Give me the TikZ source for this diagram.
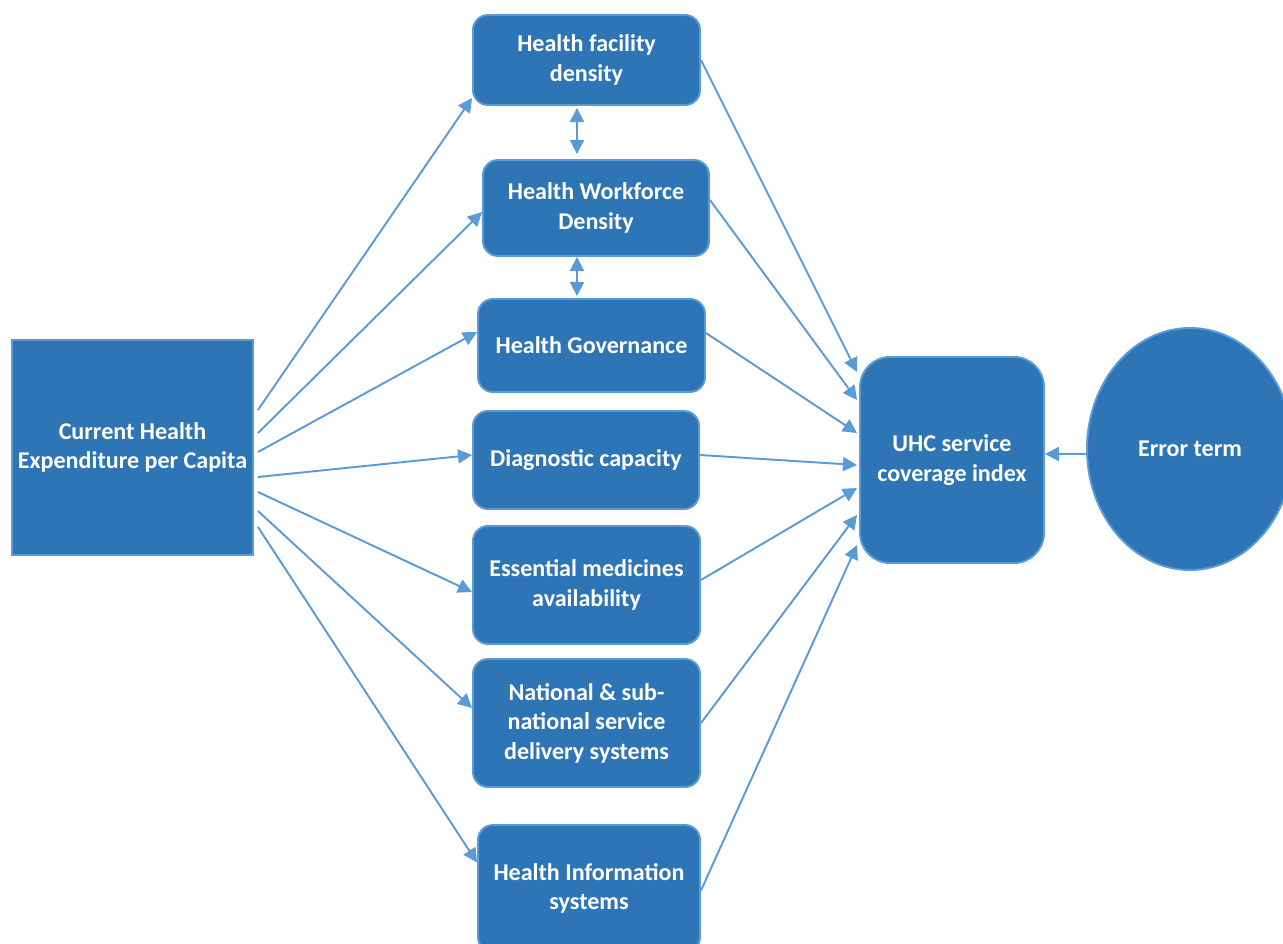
\documentclass[tikz,border=0pt]{standalone}
\usepackage{fontspec}
\setmainfont{Carlito}
\usetikzlibrary{arrows.meta,shapes.geometric}
\definecolor{boxfill}{HTML}{2E75B6}
\definecolor{boxline}{HTML}{5B9BD5}
\begin{document}
\begin{tikzpicture}[
  every node/.style={font=\fontsize{13.7}{16.8}\selectfont\bfseries, text=white, align=center, inner sep=0pt},
  factor/.style={draw=boxline, fill=boxfill, line width=1.1pt, rounded corners=0.3cm},
  link/.style={draw=boxline, line width=1.1pt, -{Triangle[length=8pt,width=8pt]}},
  twoway/.style={draw=boxline, line width=1.1pt, {Triangle[length=8pt,width=8pt]}-{Triangle[length=8pt,width=8pt]}}]
  \useasboundingbox (0,0) rectangle (25.66,-18.88);
  \begin{scope}
  \clip (0,0) rectangle (25.66,-18.88);

  \node[draw=boxline, fill=boxfill, line width=1.1pt, minimum width=4.82cm, minimum height=4.3cm] (cur) at (2.65,-8.95) {Current Health\\Expenditure per Capita};

  \node[factor, minimum width=4.54cm, minimum height=1.8cm] (fac) at (11.73,-1.2) {Health facility\\density};
  \node[factor, minimum width=4.52cm, minimum height=1.92cm] (wf) at (11.92,-4.16) {Health Workforce\\Density};
  \node[factor, minimum width=4.54cm, minimum height=1.86cm] (gov) at (11.83,-6.91) {Health Governance};
  \node[factor, minimum width=4.52cm, minimum height=1.96cm] (diag) at (11.72,-9.2) {Diagnostic capacity};
  \node[factor, minimum width=4.54cm, minimum height=2.36cm] (ess) at (11.73,-11.7) {Essential medicines\\availability};
  \node[factor, minimum width=4.54cm, minimum height=2.56cm] (nat) at (11.73,-14.46) {National \& sub-\\national service\\delivery systems};
  \node[factor, minimum width=4.44cm, minimum height=2.54cm] (info) at (11.78,-17.77) {Health Information\\systems};

  \node[factor, rounded corners=0.6cm, minimum width=3.68cm, minimum height=4.12cm] (uhc) at (19.04,-9.2) {UHC service\\coverage index};
  \node[draw=boxline, fill=boxfill, line width=1.1pt, ellipse, minimum width=4.12cm, minimum height=4.84cm] (err) at (23.8,-8.98) {Error term};

  % expenditure to each factor
  \foreach \n/\a/\b in {fac/0.75/-0.76, wf/0.29/-0.08, gov/-0.09/0.27, diag/-0.59/0.1,
                        ess/-0.89/-0.14, nat/-1.27/0.3, info/-1.59/0.52} {
    \draw[link] ([xshift=0.08cm, yshift=\a cm]cur.east) -- ([yshift=\b cm]\n.west);
  }

  % each factor to coverage index
  \foreach \n/\a/\b in {fac/0/1.76, wf/0.16/1.2, gov/0.25/0.54, diag/0.1/-0.1,
                        ess/0.1/-0.56, nat/0/-1.1, info/-0.04/-1.7} {
    \draw[link] ([yshift=\a cm]\n.east) -- ([xshift=-0.04cm, yshift=\b cm]uhc.west);
  }

  \draw[twoway] ([xshift=-0.19cm, yshift=-0.04cm]fac.south) -- ([xshift=-0.38cm, yshift=0.1cm]wf.north);
  \draw[twoway] ([xshift=-0.38cm]wf.south) -- ([xshift=-0.29cm, yshift=0.04cm]gov.north);
  \draw[link] ([yshift=-0.1cm]err.west) -- ([yshift=0.12cm]uhc.east);
  \end{scope}
\end{tikzpicture}
\end{document}
